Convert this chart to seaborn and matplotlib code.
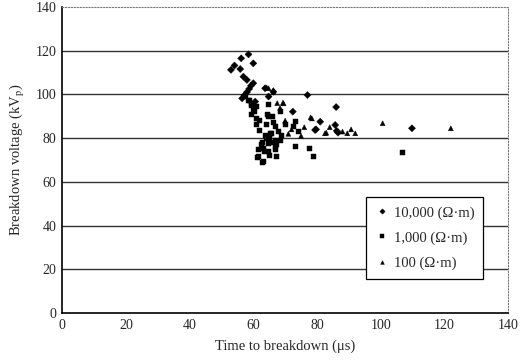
import matplotlib
matplotlib.use("Agg")
import matplotlib.pyplot as plt
import numpy as np
import pandas as pd
import seaborn as sns

# 10,000 ohm-m (diamonds)
t_10000 = [58.5, 56.2, 60.0, 54.1, 53.0, 55.9, 56.9, 58.0, 56.5, 57.2, 58.0, 58.7,
           59.3, 60.0, 63.7, 66.3, 64.8, 60.6, 77.0, 72.4, 81.0, 79.4, 86.0, 79.7,
           85.7, 86.2, 86.6, 109.8]
v_10000 = [118.3, 116.5, 114.2, 113.2, 111.2, 111.6, 108.1, 106.6, 98.2, 99.5, 101.0, 102.5,
           104.0, 105.1, 102.8, 101.2, 99.0, 96.7, 99.7, 92.1, 87.5, 83.7, 94.2, 84.0,
           86.0, 83.3, 82.5, 84.5]

# 1,000 ohm-m (squares)
t_1000 = [57.5, 58.5, 59.5, 61.1, 59.5, 61.1, 64.8, 61.1, 62.1, 64.2, 66.9, 65.8,
          63.7, 66.9, 64.8, 63.2, 64.8, 61.6, 61.6, 63.2, 66.9, 67.4, 68.4, 73.1,
          72.6, 74.2, 73.1, 77.6, 78.9, 67.4, 68.4, 106.9, 62.8, 61.3, 65.0, 66.0,
          67.0, 63.0, 64.0, 65.5, 62.5, 60.5, 58.8, 60.0, 62.0, 64.5, 66.5, 68.0,
          69.0, 65.0, 63.5, 66.0, 70.0, 59.5, 64.8]
v_1000 = [99.0, 97.0, 95.9, 94.4, 90.6, 89.0, 89.8, 86.0, 83.7, 86.0, 85.2, 82.2,
          81.4, 79.1, 77.6, 75.3, 73.8, 74.6, 71.5, 69.2, 74.6, 71.5, 92.0, 87.5,
          85.2, 82.9, 76.1, 75.3, 71.8, 76.9, 79.1, 73.5, 68.8, 71.2, 80.0, 78.0,
          76.0, 78.0, 80.0, 82.0, 77.0, 92.0, 97.0, 93.0, 88.0, 91.0, 87.0, 83.0,
          81.0, 72.0, 74.0, 90.0, 86.0, 95.0, 95.2]

# 100 ohm-m (triangles)
t_100 = [64.2, 66.3, 69.3, 68.4, 66.3, 69.5, 78.4, 82.5, 82.9, 89.5, 90.7, 92.0,
         100.6, 122.0, 78.0, 64.8, 70.0, 72.0, 75.0, 67.5, 71.0, 76.0, 84.0, 88.0]
v_100 = [103.2, 102.0, 96.2, 93.8, 101.2, 95.9, 89.0, 82.2, 82.5, 82.2, 84.0, 82.2,
         86.8, 84.5, 89.5, 102.8, 88.0, 84.0, 81.0, 96.0, 82.0, 85.0, 85.0, 83.0]

labels = ["10,000 (Ω·m)", "1,000 (Ω·m)", "100 (Ω·m)"]

df = pd.DataFrame({
    "time": t_10000 + t_1000 + t_100,
    "voltage": v_10000 + v_1000 + v_100,
    "soil": [labels[0]] * len(t_10000) + [labels[1]] * len(t_1000) + [labels[2]] * len(t_100),
})

sns.set_style("white")
plt.rcParams["font.family"] = ["Liberation Serif", "DejaVu Serif"]
plt.rcParams["mathtext.fontset"] = "stix"

fig = plt.figure(figsize=(5.31, 3.64), dpi=100)
ax = fig.add_axes([0.117, 0.140, 0.840, 0.841])

# horizontal grid lines
for yv in range(20, 140, 20):
    ax.axhline(yv, color="#333333", lw=1.0, zorder=0)

sns.scatterplot(data=df, x="time", y="voltage", style="soil",
                markers={labels[0]: "D", labels[1]: "s", labels[2]: "^"},
                color="black", s=13, edgecolor="black", linewidth=0.3,
                ax=ax, zorder=3)

ax.set_xlim(0, 140)
ax.set_ylim(0, 140)
ax.set_xticks(range(0, 141, 20))
ax.set_yticks(range(0, 141, 20))
ax.tick_params(direction="in", length=3, labelsize=10, color="black", pad=4)

for side in ["left", "bottom"]:
    ax.spines[side].set_color("black")
    ax.spines[side].set_linewidth(1.2)
for side in ["top", "right"]:
    ax.spines[side].set_color("#777777")
    ax.spines[side].set_linewidth(0.8)
    ax.spines[side].set_linestyle(":")

ax.set_xlabel("Time to breakdown (μs)", fontsize=10.5, labelpad=6)
ax.set_ylabel("Breakdown voltage (kV$_\\mathrm{p}$)", fontsize=10.5, labelpad=6)

leg = ax.legend(loc="upper left", bbox_to_anchor=(0.665, 0.402), fontsize=10.5,
                frameon=True, fancybox=False, edgecolor="black", framealpha=1,
                handletextpad=0.3, borderpad=0.6, labelspacing=0.8,
                handlelength=1.0, markerscale=0.75)
leg.get_frame().set_linewidth(0.9)

fig.savefig("out.png", dpi=100)
